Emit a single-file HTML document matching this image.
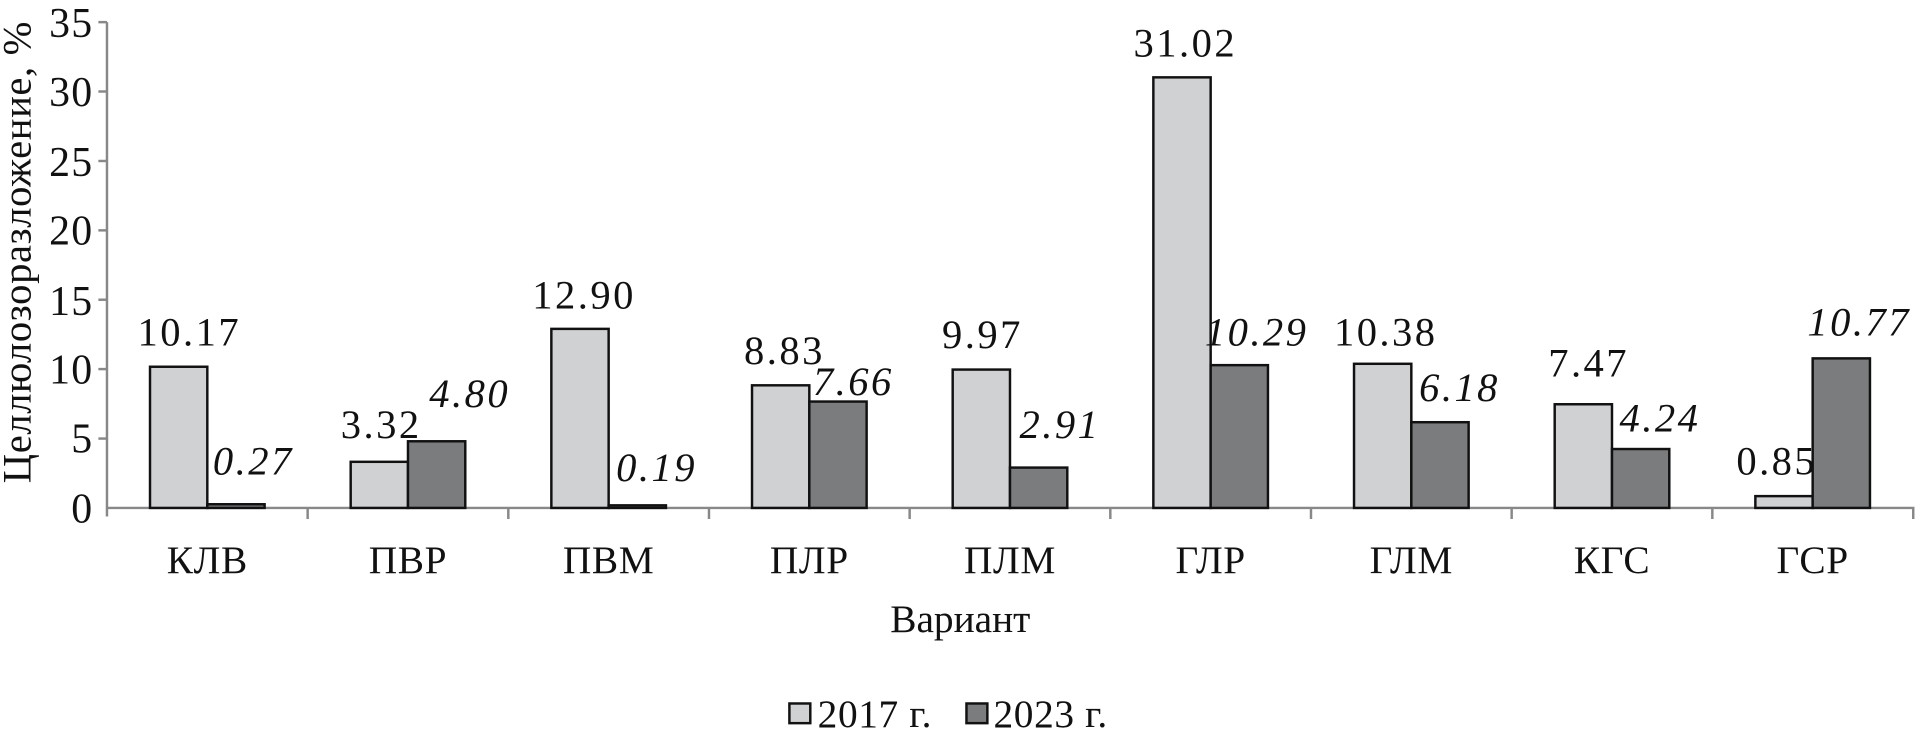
<!DOCTYPE html>
<html><head><meta charset="utf-8"><style>html,body{margin:0;padding:0;background:#fff}svg{display:block}svg text{font-family:"Liberation Serif","DejaVu Serif","Times New Roman",serif}</style></head>
<body>
<svg width="1928" height="733" viewBox="0 0 1568 596" preserveAspectRatio="none" xmlns="http://www.w3.org/2000/svg" fill="#111">
<g stroke="#888" stroke-width="2" fill="none">
<line x1="87" y1="18" x2="87" y2="420"/>
<line x1="87" y1="413" x2="1557" y2="413"/>
<line x1="80" y1="18" x2="87" y2="18"/><line x1="80" y1="74.4" x2="87" y2="74.4"/><line x1="80" y1="130.9" x2="87" y2="130.9"/><line x1="80" y1="187.3" x2="87" y2="187.3"/><line x1="80" y1="243.7" x2="87" y2="243.7"/><line x1="80" y1="300.1" x2="87" y2="300.1"/><line x1="80" y1="356.6" x2="87" y2="356.6"/>
<line x1="250.2" y1="413" x2="250.2" y2="422"/><line x1="413.4" y1="413" x2="413.4" y2="422"/><line x1="576.6" y1="413" x2="576.6" y2="422"/><line x1="739.8" y1="413" x2="739.8" y2="422"/><line x1="903" y1="413" x2="903" y2="422"/><line x1="1066.2" y1="413" x2="1066.2" y2="422"/><line x1="1229.4" y1="413" x2="1229.4" y2="422"/><line x1="1392.6" y1="413" x2="1392.6" y2="422"/><line x1="1556" y1="413" x2="1556" y2="422"/>
</g>
<g font-size="34" text-anchor="end" letter-spacing="1">
<text x="76" y="30">35</text><text x="76" y="86">30</text><text x="76" y="143">25</text><text x="76" y="199">20</text><text x="76" y="256">15</text><text x="76" y="312">10</text><text x="76" y="368">5</text><text x="76" y="425">0</text>
</g>
<text transform="translate(25,205) rotate(-90)" font-size="33" text-anchor="middle" letter-spacing="0.5">Целлюлозоразложение, %</text>
<g stroke="#111" stroke-width="2">
<g fill="#d0d1d3">
<rect x="122" y="298.2" width="46.6" height="114.8"/>
<rect x="285.2" y="375.5" width="46.6" height="37.5"/>
<rect x="448.4" y="267.4" width="46.6" height="145.6"/>
<rect x="611.6" y="313.3" width="46.6" height="99.7"/>
<rect x="774.8" y="300.5" width="46.6" height="112.5"/>
<rect x="938" y="62.9" width="46.6" height="350.1"/>
<rect x="1101.2" y="295.8" width="46.6" height="117.2"/>
<rect x="1264.4" y="328.7" width="46.6" height="84.3"/>
<rect x="1427.6" y="403.4" width="46.6" height="9.6"/>
</g>
<g fill="#7b7c7e">
<rect x="168.6" y="410" width="46.6" height="3"/>
<rect x="331.8" y="358.8" width="46.6" height="54.2"/>
<rect x="495" y="410.9" width="46.6" height="2.1"/>
<rect x="658.2" y="326.5" width="46.6" height="86.5"/>
<rect x="821.4" y="380.2" width="46.6" height="32.8"/>
<rect x="984.6" y="296.9" width="46.6" height="116.1"/>
<rect x="1147.8" y="343.3" width="46.6" height="69.7"/>
<rect x="1311" y="365.1" width="46.6" height="47.9"/>
<rect x="1474.2" y="291.4" width="46.6" height="121.6"/>
</g>
</g>
<g font-size="33" text-anchor="middle" letter-spacing="2">
<text x="154" y="281">10.17</text><text x="310" y="356">3.32</text><text x="475" y="251">12.90</text><text x="638" y="296">8.83</text><text x="799" y="283">9.97</text><text x="964" y="46">31.02</text><text x="1127" y="281">10.38</text><text x="1292" y="306">7.47</text><text x="1445" y="386">0.85</text>
</g>
<g font-size="33" text-anchor="middle" font-style="italic" letter-spacing="2">
<text x="206" y="386">0.27</text><text x="382" y="331">4.80</text><text x="534" y="391">0.19</text><text x="694" y="321">7.66</text><text x="862" y="356">2.91</text><text x="1022" y="281">10.29</text><text x="1187" y="326">6.18</text><text x="1350" y="351">4.24</text><text x="1512" y="273">10.77</text>
</g>
<g font-size="32" text-anchor="middle" letter-spacing="0.5">
<text x="168.6" y="466">КЛВ</text><text x="331.8" y="466">ПВР</text><text x="495" y="466">ПВМ</text><text x="658.2" y="466">ПЛР</text><text x="821.4" y="466">ПЛМ</text><text x="984.6" y="466">ГЛР</text><text x="1147.8" y="466">ГЛМ</text><text x="1311" y="466">КГС</text><text x="1474.2" y="466">ГСР</text>
</g>
<text x="781" y="514" font-size="32" text-anchor="middle">Вариант</text>
<rect x="642" y="572" width="17" height="16" fill="#d0d1d3" stroke="#111" stroke-width="2"/>
<text x="665" y="591" font-size="32" letter-spacing="0.5">2017 г.</text>
<rect x="786" y="572" width="17" height="16" fill="#7b7c7e" stroke="#111" stroke-width="2"/>
<text x="808" y="591" font-size="32" letter-spacing="0.5">2023 г.</text>
</svg>
</body></html>
